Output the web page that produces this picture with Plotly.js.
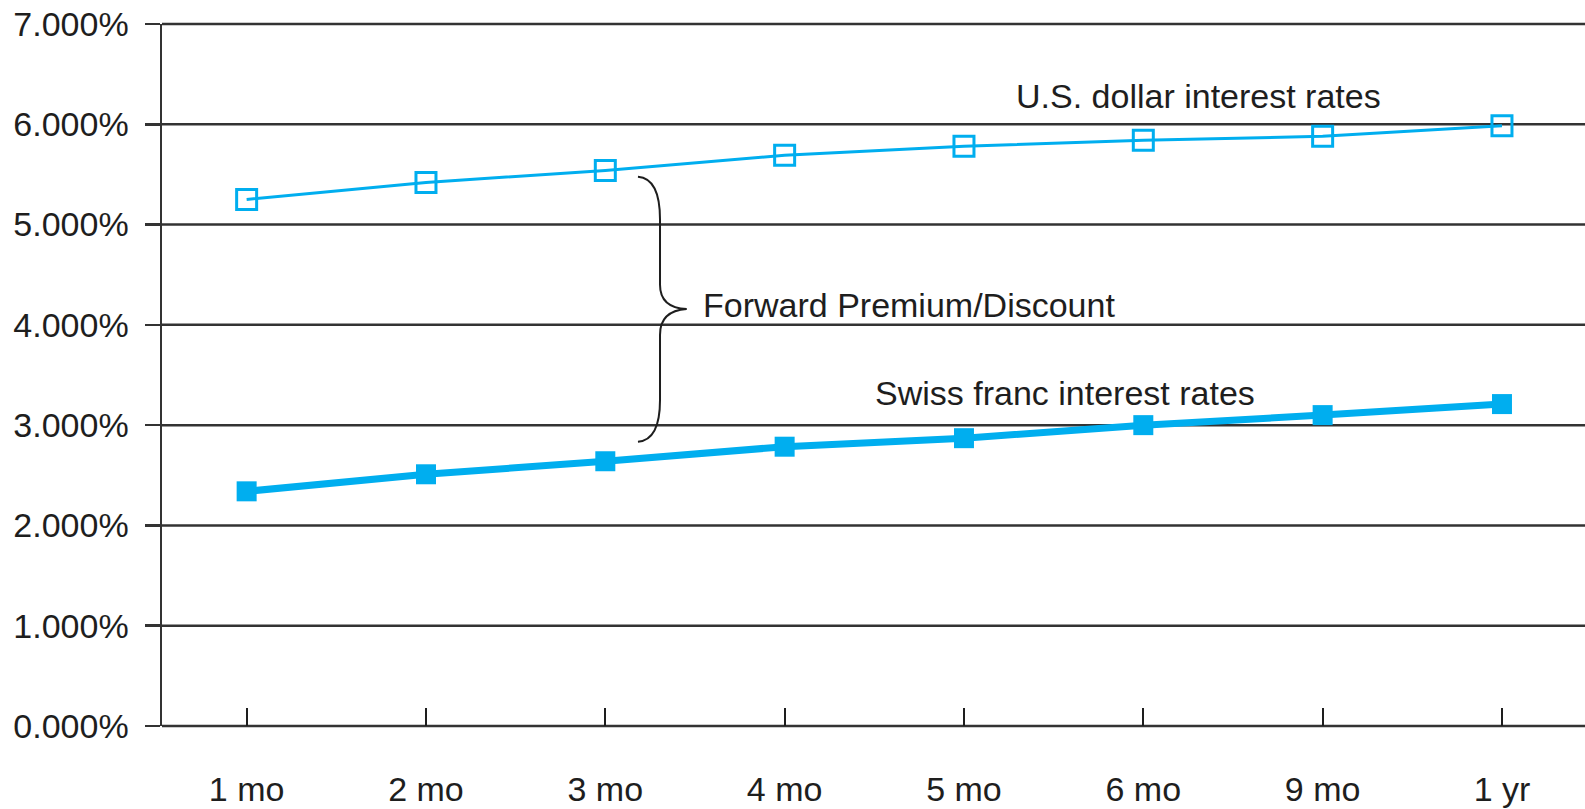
<!DOCTYPE html>
<html>
<head>
<meta charset="utf-8">
<script src="https://cdn.plot.ly/plotly-3.0.1.min.js"></script>
<style>
  html, body { margin: 0; padding: 0; background: #ffffff; }
  #chart { width: 1585px; height: 809px; }
</style>
</head>
<body>
<div id="chart"></div>
<script>
// Data
var maturities = ["1 mo", "2 mo", "3 mo", "4 mo", "5 mo", "6 mo", "9 mo", "1 yr"];
var usdRates   = [5.25, 5.42, 5.54, 5.69, 5.78, 5.84, 5.88, 5.985];
var chfRates   = [2.34, 2.51, 2.64, 2.785, 2.87, 3.00, 3.10, 3.21];
var yTickVals  = [0, 1, 2, 3, 4, 5, 6, 7];
var yTickText  = ["0.000%", "1.000%", "2.000%", "3.000%", "4.000%", "5.000%", "6.000%", "7.000%"];
var labelUSD   = "U.S. dollar interest rates";
var labelCHF   = "Swiss franc interest rates";
var labelFwd   = "Forward Premium/Discount";

var cyan = "#00aeef";
var ink = "#1e1e1e";
var grid = "#333333";
var fontFam = "Liberation Sans, Arial, Helvetica, sans-serif";
var yMax = 7;

var traces = [
  {
    x: maturities, y: usdRates, type: "scatter", mode: "lines+markers",
    line: { color: cyan, width: 3 },
    marker: { symbol: "square-open", size: 20, color: cyan, line: { color: cyan, width: 3 } },
    hoverinfo: "skip", showlegend: false
  },
  {
    x: maturities, y: chfRates, type: "scatter", mode: "lines+markers",
    line: { color: cyan, width: 7 },
    marker: { symbol: "square", size: 20, color: cyan },
    hoverinfo: "skip", showlegend: false
  }
];

// horizontal gridlines (paper-referenced so the top one is not clipped)
var gridShapes = yTickVals.map(function (v) {
  return { type: "line", xref: "paper", yref: "paper", x0: 0, x1: 1, y0: v / yMax, y1: v / yMax,
           line: { color: grid, width: 2.5 }, layer: "below" };
});

var layout = {
  width: 1585, height: 809,
  margin: { l: 162, r: 0, t: 24, b: 83 },
  paper_bgcolor: "#ffffff", plot_bgcolor: "#ffffff",
  font: { family: fontFam, size: 34, color: ink },
  showlegend: false,
  xaxis: {
    type: "category",
    range: [-0.472, 7.463],
    showgrid: false, zeroline: false,
    showline: false,
    ticks: "inside", ticklen: 18, tickwidth: 2, tickcolor: ink,
    tickfont: { family: fontFam, size: 34, color: ink },
    ticklabelstandoff: 40,
    fixedrange: true
  },
  yaxis: {
    range: [0, yMax],
    tickvals: yTickVals, ticktext: yTickText,
    showgrid: false,
    zeroline: false,
    showline: true, linecolor: grid, linewidth: 2.5,
    ticks: "outside", ticklen: 15, tickwidth: 2.5, tickcolor: grid,
    tickfont: { family: fontFam, size: 34, color: ink },
    ticklabelstandoff: 9,
    fixedrange: true
  },
  shapes: gridShapes.concat([
    // curly brace between the two curves
    { type: "path", xref: "x", yref: "y",
      path: "M 2.182,5.477 Q 2.305,5.46 2.305,5.05 L 2.305,4.40 Q 2.305,4.17 2.454,4.157 " +
            "Q 2.305,4.14 2.305,3.90 L 2.305,3.25 Q 2.305,2.85 2.182,2.834",
      line: { color: ink, width: 2 } }
  ]),
  annotations: [
    { x: 4.28, y: 6.28, xref: "x", yref: "y", text: labelUSD, showarrow: false,
      xanchor: "left", yanchor: "middle", font: { family: fontFam, size: 34, color: ink } },
    { x: 2.532, y: 4.197, xref: "x", yref: "y", text: labelFwd, showarrow: false,
      xanchor: "left", yanchor: "middle", font: { family: fontFam, size: 34, color: ink } },
    { x: 3.49, y: 3.316, xref: "x", yref: "y", text: labelCHF, showarrow: false,
      xanchor: "left", yanchor: "middle", font: { family: fontFam, size: 34, color: ink } }
  ]
};

Plotly.newPlot("chart", traces, layout, { displayModeBar: false, staticPlot: true });
</script>
</body>
</html>
